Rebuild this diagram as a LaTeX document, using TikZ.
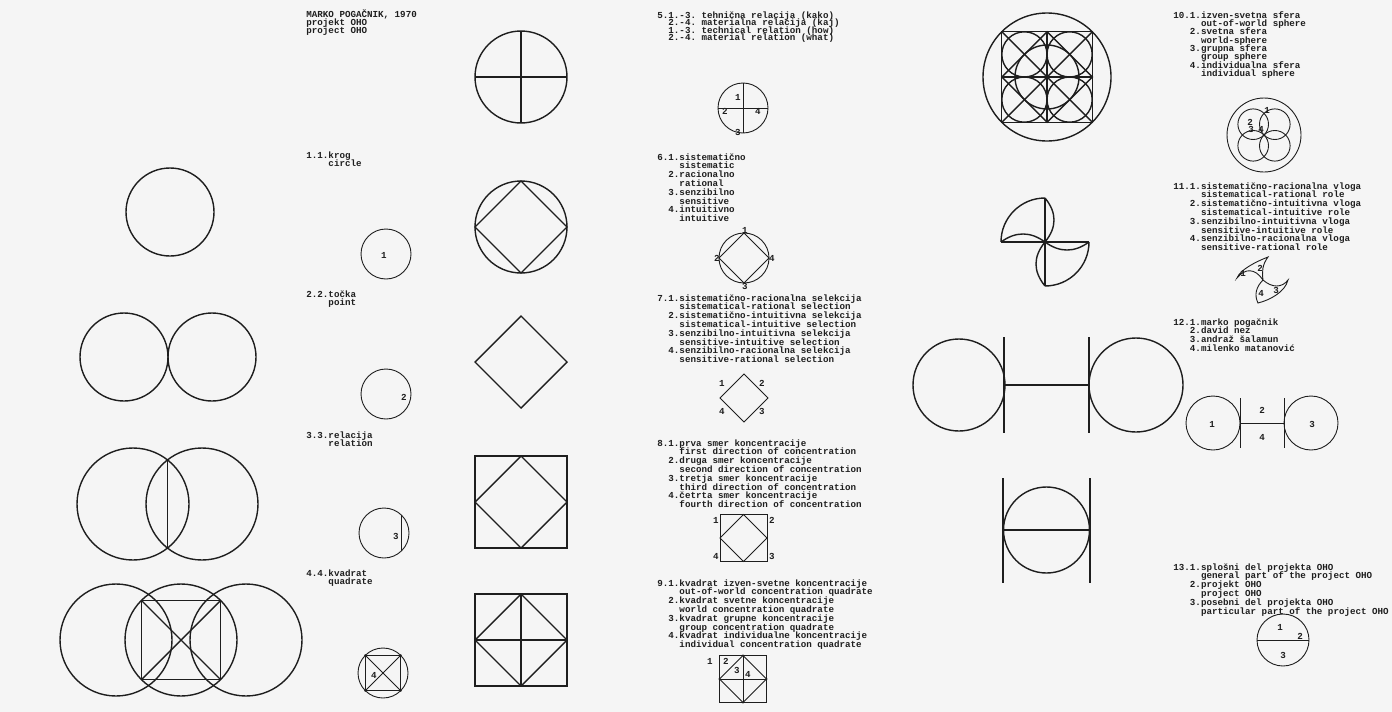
\documentclass[tikz,border=0pt]{standalone}
\usepackage{fontspec}
\setmonofont{Liberation Mono}
\definecolor{bg}{RGB}{245,245,245}
\definecolor{ink}{RGB}{30,30,30}
\newcommand\tw{\fontsize{4.6}{4.4}\selectfont\ttfamily\bfseries\lineskiplimit=-\maxdimen\relax}
\newcommand\twt{\fontsize{4.6}{3.75}\selectfont\ttfamily\bfseries\lineskiplimit=-\maxdimen\relax}
\newcommand\twa{\fontsize{4.6}{4.15}\selectfont\ttfamily\bfseries\lineskiplimit=-\maxdimen\relax}
\newcommand\twb{\fontsize{4.6}{4}\selectfont\ttfamily\bfseries\lineskiplimit=-\maxdimen\relax}
\tikzset{
  big/.style={draw=ink, line width=0.7pt},
  sml/.style={draw=ink, line width=0.45pt},
  txt/.style={anchor=north west, inner sep=0pt, align=left, font=\tw, text=ink},
  lab/.style={inner sep=0pt, font=\tw, text=ink},
}
\begin{document}
\begin{tikzpicture}[x=0.5pt,y=-0.5pt]
\fill[bg] (0,0) rectangle (1392,712);
\useasboundingbox (0,0) rectangle (1392,712);

% ---------- column 1 ----------
\draw[big] (170,212) circle (44);
\draw[big] (124,357) circle (44);
\draw[big] (212,357) circle (44);
\draw[big] (133,504) circle (56);
\draw[big] (202,504) circle (56);
\draw[big] (167.5,459.3) -- (167.5,548.7);
\begin{scope}[shift={(181,640)}]
\draw[big] (-65,0) circle (56);
\draw[big] (0,0) circle (56);
\draw[big] (65,0) circle (56);
\draw[big] (-39.6,-39.6) rectangle (39.6,39.6);
\draw[big] (-39.6,-39.6) -- (39.6,39.6) (-39.6,39.6) -- (39.6,-39.6);
\end{scope}

% ---------- column 2 ----------
\node[txt, font=\twb] (title) at (306,9) {MARKO POGAČNIK, 1970\\projekt OHO\\project OHO};
\node[txt] (t1) at (306,151) {1.1.krog\\\phantom{1.1.}circle};
\node[txt] (t2) at (306,290) {2.2.točka\\\phantom{2.2.}point};
\node[txt] (t3) at (306,431) {3.3.relacija\\\phantom{3.3.}relation};
\node[txt] (t4) at (306,569) {4.4.kvadrat\\\phantom{4.4.}quadrate};

\draw[sml] (386,254) circle (25);
\node[lab] (l1) at (384,255) {1};
\draw[sml] (386,394) circle (25);
\node[lab] (l2) at (404,397) {2};
\draw[sml] (384,533) circle (25);
\draw[sml] (401,515) -- (401,551);
\node[lab] (l3) at (396,536) {3};
\draw[sml] (383,673) circle (25);
\draw[sml] (365.3,655.3) rectangle (400.7,690.7);
\draw[sml] (365.3,655.3) -- (400.7,690.7) (365.3,690.7) -- (400.7,655.3);
\foreach \p in {(365.3,655.3),(400.7,690.7),(365.3,690.7),(400.7,655.3)} \fill[ink] \p circle (1.2);
\node[lab] (l4) at (374,675) {4};

% ---------- column 3 ----------
\draw[big] (521,77) circle (46);
\draw[big] (475,77) -- (567,77) (521,31) -- (521,123);
\draw[big] (521,227) circle (46);
\draw[big] (521,181) -- (567,227) -- (521,273) -- (475,227) -- cycle;
\draw[big] (521,316) -- (567,362) -- (521,408) -- (475,362) -- cycle;
\draw[big] (475,456) rectangle (567,548);
\draw[big] (521,456) -- (567,502) -- (521,548) -- (475,502) -- cycle;
\draw[big] (475,594) rectangle (567,686);
\draw[big] (521,594) -- (567,640) -- (521,686) -- (475,640) -- cycle;
\draw[big] (475,640) -- (567,640) (521,594) -- (521,686);

% ---------- column 4 ----------
\node[txt, font=\twt] (t5) at (657,11) {5.1.-3. tehnična relacija (kako)\\\phantom{5.}2.-4. materialna relacija (kaj)\\\phantom{5.}1.-3. technical relation (how)\\\phantom{5.}2.-4. material relation (what)};
\node[txt] (t6) at (657,153) {6.1.sistematično\\\phantom{6.1.}sistematic\\\phantom{6.}2.racionalno\\\phantom{6.1.}rational\\\phantom{6.}3.senzibilno\\\phantom{6.1.}sensitive\\\phantom{6.}4.intuitivno\\\phantom{6.1.}intuitive};
\node[txt] (t7) at (657,294) {7.1.sistematično-racionalna selekcija\\\phantom{7.1.}sistematical-rational selection\\\phantom{7.}2.sistematično-intuitivna selekcija\\\phantom{7.1.}sistematical-intuitive selection\\\phantom{7.}3.senzibilno-intuitivna selekcija\\\phantom{7.1.}sensitive-intuitive selection\\\phantom{7.}4.senzibilno-racionalna selekcija\\\phantom{7.1.}sensitive-rational selection};
\node[txt] (t8) at (657,439) {8.1.prva smer koncentracije\\\phantom{8.1.}first direction of concentration\\\phantom{8.}2.druga smer koncentracije\\\phantom{8.1.}second direction of concentration\\\phantom{8.}3.tretja smer koncentracije\\\phantom{8.1.}third direction of concentration\\\phantom{8.}4.četrta smer koncentracije\\\phantom{8.1.}fourth direction of concentration};
\node[txt] (t9) at (657,579) {9.1.kvadrat izven-svetne koncentracije\\\phantom{9.1.}out-of-world concentration quadrate\\\phantom{9.}2.kvadrat svetne koncentracije\\\phantom{9.1.}world concentration quadrate\\\phantom{9.}3.kvadrat grupne koncentracije\\\phantom{9.1.}group concentration quadrate\\\phantom{9.}4.kvadrat individualne koncentracije\\\phantom{9.1.}individual concentration quadrate};

% 5.1 diagram
\draw[sml] (743,108) circle (25);
\draw[sml] (718,108) -- (768,108) (743,83) -- (743,133);
\node[lab] (l51) at (738,97) {1};
\node[lab] (l52) at (725,111) {2};
\node[lab] (l54) at (758,111) {4};
\node[lab] (l53) at (738,132) {3};
% 6.1 diagram
\draw[sml] (744,258) circle (25);
\draw[sml] (744,233) -- (769,258) -- (744,283) -- (719,258) -- cycle;
\node[lab] (l61) at (745,230) {1};
\node[lab] (l62) at (717,258) {2};
\node[lab] (l64) at (772,258) {4};
\node[lab] (l63) at (745,286) {3};
% 7.1 diagram
\draw[sml] (744,374) -- (768,398) -- (744,422) -- (720,398) -- cycle;
\node[lab] (l71) at (722,383) {1};
\node[lab] (l72) at (762,383) {2};
\node[lab] (l74) at (722,411) {4};
\node[lab] (l73) at (762,411) {3};
% 8.1 diagram
\draw[sml] (720,514.5) rectangle (767,561.5);
\draw[sml] (743.5,514.5) -- (767,538) -- (743.5,561.5) -- (720,538) -- cycle;
\node[lab] (l81) at (716,520) {1};
\node[lab] (l82) at (772,520) {2};
\node[lab] (l84) at (716,556) {4};
\node[lab] (l83) at (772,556) {3};
% 9.1 diagram
\draw[sml] (719.5,655.5) rectangle (766.5,702.5);
\draw[sml] (743,655.5) -- (766.5,679) -- (743,702.5) -- (719.5,679) -- cycle;
\draw[sml] (719.5,679) -- (766.5,679) (743,655.5) -- (743,702.5);
\foreach \p in {(743,655.5),(766.5,679),(743,702.5),(719.5,679)} \fill[ink] \p circle (1.2);
\node[lab] (l91) at (710,661) {1};
\node[lab] (l92) at (726,661) {2};
\node[lab] (l93) at (737,670) {3};
\node[lab] (l94) at (748,674) {4};

% ---------- column 5 ----------
\begin{scope}[shift={(1047,77)}]
\draw[big] (0,0) circle (64);
\draw[big] (-45.25,-45.25) rectangle (45.25,45.25);
\draw[big] (0,-45.25) -- (45.25,0) -- (0,45.25) -- (-45.25,0) -- cycle;
\draw[big] (-45.25,0) -- (45.25,0) (0,-45.25) -- (0,45.25);
\draw[big] (-45.25,-45.25) -- (45.25,45.25) (-45.25,45.25) -- (45.25,-45.25);
\draw[big] (0,0) circle (32);
\foreach \dx/\dy in {-1/-1,1/-1,-1/1,1/1} \draw[big] (22.6*\dx,22.6*\dy) circle (22.6);
\end{scope}
% pinwheel
\begin{scope}[shift={(1045,242)}]
\draw[big] (0,-44) -- (0,44) (-44,0) -- (44,0);
\draw[big] (-44,0) arc[start angle=180, end angle=270, radius=44];
\draw[big] (44,0) arc[start angle=0, end angle=90, radius=44];
\draw[big] (-44,0) .. controls (-29.3,-10.7) and (-14.7,-10.7) .. (0,0);
\draw[big] (0,-44) .. controls (12,-29.3) and (12,-14.7) .. (0,0);
\draw[big] (44,0) .. controls (29.3,10.7) and (14.7,10.7) .. (0,0);
\draw[big] (0,44) .. controls (-12,29.3) and (-12,14.7) .. (0,0);
\end{scope}
% two circles with bars
\draw[big] (959,385) circle (46);
\draw[big] (1136,385) circle (47);
\draw[big] (1004,337) -- (1004,433) (1089,337) -- (1089,433);
\draw[big] (1004,385) -- (1089,385);
% circle with diameter and bars
\draw[big] (1046.5,530) circle (43);
\draw[big] (1003.5,530) -- (1089.5,530);
\draw[big] (1003,478) -- (1003,583) (1090,478) -- (1090,583);

% ---------- column 6 ----------
\node[txt, font=\twa] (t10) at (1173,11) {10.1.izven-svetna sfera\\\phantom{10.1.}out-of-world sphere\\\phantom{10.}2.svetna sfera\\\phantom{10.1.}world-sphere\\\phantom{10.}3.grupna sfera\\\phantom{10.1.}group sphere\\\phantom{10.}4.individualna sfera\\\phantom{10.1.}individual sphere};
\node[txt] (t11) at (1173,182) {11.1.sistematično-racionalna vloga\\\phantom{11.1.}sistematical-rational role\\\phantom{11.}2.sistematično-intuitivna vloga\\\phantom{11.1.}sistematical-intuitive role\\\phantom{11.}3.senzibilno-intuitivna vloga\\\phantom{11.1.}sensitive-intuitive role\\\phantom{11.}4.senzibilno-racionalna vloga\\\phantom{11.1.}sensitive-rational role};
\node[txt] (t12) at (1173,318) {12.1.marko pogačnik\\\phantom{12.}2.david nez\\\phantom{12.}3.andraž šalamun\\\phantom{12.}4.milenko matanović};
\node[txt] (t13) at (1173,563) {13.1.splošni del projekta OHO\\\phantom{13.1.}general part of the project OHO\\\phantom{13.}2.projekt OHO\\\phantom{13.1.}project OHO\\\phantom{13.}3.posebni del projekta OHO\\\phantom{13.1.}particular part of the project OHO};

% 10.1 diagram
\draw[sml] (1264,135) circle (37);
\foreach \dx/\dy in {-1/-1,1/-1,-1/1,1/1} \draw[sml] (1264+10.8*\dx,135+10.8*\dy) circle (15.3);
\node[lab] (l101) at (1267,110) {1};
\node[lab] (l102) at (1250,122) {2};
\node[lab] (l103) at (1251,129) {3};
\node[lab] (l104) at (1261,129) {4};
% 11.1 diagram
\begin{scope}[shift={(1263,280)}]
\draw[sml] (0,0) .. controls (-8,-12) and (-18,-12) .. (-26,-2) .. controls (-23,-10) and (-8,-18) .. (5,-23) .. controls (-1,-15) and (-1,-8) .. (0,0);
\draw[sml] (0,0) .. controls (9,8) and (19,8) .. (25,0) .. controls (22,12) and (7,20) .. (-5,23) .. controls (-9,15) and (-7,7) .. (0,0);
\end{scope}
\node[lab] (l111) at (1243,273) {1};
\node[lab] (l112) at (1260,268) {2};
\node[lab] (l113) at (1276,290) {3};
\node[lab] (l114) at (1261,293) {4};
% 12.1 diagram
\draw[sml] (1213,423) circle (27);
\draw[sml] (1311,423) circle (27);
\draw[sml] (1240,398) -- (1240,448) (1284,398) -- (1284,448);
\draw[sml] (1240,423) -- (1284,423);
\node[lab] (l121) at (1212,424) {1};
\node[lab] (l122) at (1262,410) {2};
\node[lab] (l124) at (1262,437) {4};
\node[lab] (l123) at (1312,424) {3};
% 13.1 diagram
\draw[sml] (1283,640) circle (26);
\draw[sml] (1257,640) -- (1309,640);
\node[lab] (l131) at (1280,627) {1};
\node[lab] (l132) at (1300,636) {2};
\node[lab] (l133) at (1283,655) {3};
\end{tikzpicture}
\end{document}
